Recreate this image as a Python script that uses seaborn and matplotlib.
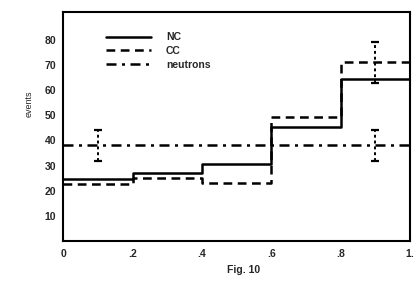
import matplotlib
matplotlib.use("Agg")
import matplotlib.pyplot as plt
import seaborn as sns
import pandas as pd
import numpy as np

# ---- data ----
bin_edges = [0.0, 0.2, 0.4, 0.6, 0.8, 1.0]
nc_values = [24.5, 27.0, 30.7, 45.5, 64.5]
cc_values = [22.8, 25.0, 23.0, 49.5, 71.0]
neutron_values = [38.0, 38.0, 38.0, 38.0, 38.0]
err_x = [0.1, 0.9]
neutron_err_y = [38.0, 38.0]
neutron_err = [6.0, 6.0]
cc_err_x = [0.9]
cc_err_y = [71.0]
cc_err = [8.0]
x_ticks = [0, 0.2, 0.4, 0.6, 0.8, 1.0]
x_ticklabels = ["0", ".2", ".4", ".6", ".8", "1."]
y_ticks = [10, 20, 30, 40, 50, 60, 70, 80]

sns.set_theme(style="white")
plt.rcParams['font.family'] = ['Liberation Sans', 'DejaVu Sans']

def step_frame(vals, name):
    return pd.DataFrame({"x": bin_edges, "y": list(vals) + [vals[-1]], "series": name})

fig = plt.figure(figsize=(4.16, 2.81), dpi=100)
ax = fig.add_axes([0.152, 0.142, 0.834, 0.815])

sns.lineplot(data=step_frame(nc_values, "NC"), x="x", y="y", ax=ax, drawstyle="steps-post",
             color="black", linewidth=1.8, label="NC")
sns.lineplot(data=step_frame(cc_values, "CC"), x="x", y="y", ax=ax, drawstyle="steps-post",
             color="black", linewidth=1.8, linestyle=(0, (3.5, 2.2)), label="CC")
sns.lineplot(data=step_frame(neutron_values, "neutrons"), x="x", y="y", ax=ax, drawstyle="steps-post",
             color="black", linewidth=1.8, linestyle=(0, (4, 2.2, 1.2, 2.2)), label="neutrons")

e1 = ax.errorbar(err_x, neutron_err_y, yerr=neutron_err, fmt="none", ecolor="black",
                 elinewidth=1.4, capsize=3, capthick=1.6)
e1[2][0].set_linestyle((0, (1.5, 1.5)))
e2 = ax.errorbar(cc_err_x, cc_err_y, yerr=cc_err, fmt="none", ecolor="black",
                 elinewidth=1.4, capsize=3, capthick=1.6)
e2[2][0].set_linestyle((0, (1.5, 1.5)))

ax.set_xlim(0, 1.0)
ax.set_ylim(0, 91)
ax.set_xticks(x_ticks)
ax.set_xticklabels(x_ticklabels, fontsize=7.5, fontweight="bold")
ax.set_yticks(y_ticks)
ax.set_yticklabels([str(v) for v in y_ticks], fontsize=7.5, fontweight="bold")
ax.tick_params(axis="y", direction="out", length=4, width=1.2, color="black", pad=1)
ax.tick_params(axis="x", direction="out", length=3, width=1.2, color="black", pad=3)
for s in ax.spines.values():
    s.set_color("black")
    s.set_linewidth(1.5)

ax.set_xlabel("Fig. 10", fontsize=7.5, fontweight="bold")
ax.xaxis.set_label_coords(0.52, -0.105)
ax.set_ylabel("events", fontsize=6.5)
ax.yaxis.set_label_coords(-0.085, 0.6)

leg = ax.legend(loc="upper left", bbox_to_anchor=(0.11, 0.93), frameon=False, fontsize=7.5,
                handlelength=4.4, handletextpad=1.4, labelspacing=0.35, borderaxespad=0)
for t in leg.get_texts():
    t.set_fontweight("bold")

fig.savefig("out.png", dpi=100)
